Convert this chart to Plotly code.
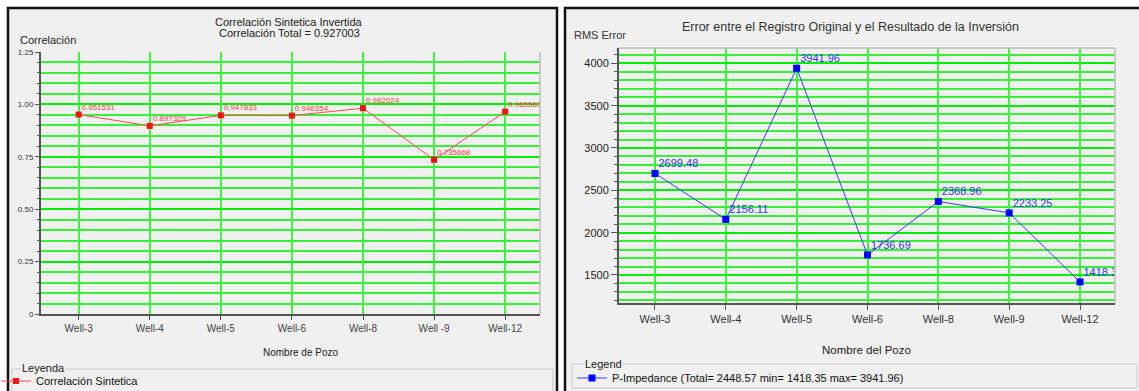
import plotly.graph_objects as go

# ---- data -------------------------------------------------------------
wells_corr = ["Well-3", "Well-4", "Well-5", "Well-6", "Well-8", "Well -9", "Well-12"]
corr_values = [0.951531, 0.897329, 0.947833, 0.946354, 0.982024, 0.735668, 0.965566]
corr_total = 0.927003
corr_tickvals = [0, 0.25, 0.5, 0.75, 1.0, 1.25]
corr_ticktext = ["0", "0.25", "0.50", "0.75", "1.00", "1.25"]

wells_rms = ["Well-3", "Well-4", "Well-5", "Well-6", "Well-8", "Well-9", "Well-12"]
rms_values = [2699.48, 2156.11, 3941.96, 1736.69, 2368.96, 2233.25, 1418.35]
rms_total = 2448.57

# ---- canvas helpers ----------------------------------------------------
W, H = 1139, 391
FONT = "Liberation Sans, Arial, sans-serif"
NARROW = "Liberation Sans Narrow, Liberation Sans, Arial, sans-serif"
PANEL_BG = "#f0f0f0"
GRID_MAJOR = "#00ee00"
GRID_MINOR = "#38f038"
GRID_VERT = "#44f044"
CLEAR = "rgba(0,0,0,0)"


def px(x):
    return x / W


def py(y):
    return 1 - y / H


fig = go.Figure()

# correlation series (line + markers) and its value labels
fig.add_trace(go.Scatter(
    x=wells_corr, y=corr_values, xaxis="x", yaxis="y",
    mode="lines+markers", name="Correlación Sintetica",
    line=dict(color="#ff4a4a", width=1),
    marker=dict(symbol="square", size=6, color="#ff1010"),
    legend="legend",
))
fig.add_trace(go.Scatter(
    x=wells_corr, y=corr_values, xaxis="x", yaxis="y",
    mode="markers+text", showlegend=False, hoverinfo="skip",
    marker=dict(size=3, color=CLEAR),
    text=[f"{v:.6f}" for v in corr_values], textposition="top right",
    textfont=dict(family=NARROW, size=8, color="#ff4040"),
))

# RMS error series and its value labels
fig.add_trace(go.Scatter(
    x=wells_rms, y=rms_values, xaxis="x2", yaxis="y2",
    mode="lines+markers",
    name=f"P-Impedance (Total= {rms_total:.2f} min= {min(rms_values):.2f} max= {max(rms_values):.2f})",
    line=dict(color="#3a3aff", width=1),
    marker=dict(symbol="square", size=7, color="#0000ff"),
    legend="legend2",
))
fig.add_trace(go.Scatter(
    x=wells_rms, y=rms_values, xaxis="x2", yaxis="y2",
    mode="markers+text", showlegend=False, hoverinfo="skip",
    marker=dict(size=4, color=CLEAR),
    text=[f"{v:.2f}" for v in rms_values], textposition="top right",
    textfont=dict(family=FONT, size=11, color="#3434ff"),
))

axis_common = dict(showline=True, linecolor="#555555", linewidth=2,
                   ticks="outside", tickcolor="#555555", zeroline=False)

fig.update_layout(
    width=W, height=H,
    margin=dict(l=0, r=0, t=0, b=0, autoexpand=False),
    paper_bgcolor="white", plot_bgcolor="white",
    font=dict(family=FONT, color="#222222"),
    xaxis=dict(domain=[px(41), px(540)], anchor="y", type="category",
               range=[-0.53, 6.49], showgrid=True, gridcolor=GRID_VERT, gridwidth=1.5,
               ticklen=4, tickfont=dict(size=10, color="#444444"), **axis_common),
    yaxis=dict(domain=[py(314), py(52)], anchor="x", range=[0, 1.25],
               tickmode="array", tickvals=corr_tickvals, ticktext=corr_ticktext,
               ticklen=4, tickfont=dict(family=NARROW, size=8, color="#333333"),
               showgrid=True, gridcolor=GRID_MAJOR, gridwidth=2,
               minor=dict(tickmode="linear", tick0=0, dtick=0.05, ticks="outside",
                          ticklen=2, tickcolor="#555555", showgrid=True,
                          gridcolor=GRID_MINOR, gridwidth=1.5),
               **axis_common),
    xaxis2=dict(domain=[px(619), px(1115)], anchor="y2", type="category",
                range=[-0.508, 6.494], showgrid=True, gridcolor=GRID_VERT, gridwidth=1.5,
                ticklen=5, tickfont=dict(size=11, color="#333333"), **axis_common),
    yaxis2=dict(domain=[py(303), py(48)], anchor="x2", range=[1169, 4181],
                tick0=0, dtick=500, ticklen=6, tickfont=dict(size=11, color="#222222"),
                showgrid=True, gridcolor=GRID_MAJOR, gridwidth=2,
                minor=dict(tickmode="linear", tick0=0, dtick=100, ticks="outside",
                           ticklen=3, tickcolor="#555555", showgrid=True,
                           gridcolor=GRID_MINOR, gridwidth=1.5),
                **axis_common),
    legend=dict(x=px(-4), y=py(381), xanchor="left", yanchor="middle",
                bgcolor=CLEAR, borderwidth=0, itemwidth=30,
                font=dict(size=11, color="#111111")),
    legend2=dict(x=px(572), y=py(378), xanchor="left", yanchor="middle",
                 bgcolor=CLEAR, borderwidth=0, itemwidth=30,
                 font=dict(size=11, color="#111111")),
    showlegend=True,
)

shapes = []
# panel backgrounds and frames
for x0, x1 in [(8, 557), (565, 1150)]:
    shapes.append(dict(type="rect", xref="paper", yref="paper", layer="below",
                       x0=px(x0), x1=px(x1), y0=py(400), y1=py(8),
                       fillcolor=PANEL_BG, line=dict(color="#111111", width=2.5)))
# legend group boxes
shapes.append(dict(type="rect", xref="paper", yref="paper", layer="below",
                   x0=px(12), x1=px(553), y0=py(398), y1=py(369),
                   line=dict(color="#c8c8c8", width=1)))
shapes.append(dict(type="rect", xref="paper", yref="paper", layer="below",
                   x0=px(572), x1=px(1137), y0=py(388), y1=py(364),
                   line=dict(color="#c8c8c8", width=1)))
# light plot-area edges
shapes.append(dict(type="line", xref="paper", yref="paper",
                   x0=px(540), x1=px(540), y0=py(314), y1=py(52),
                   line=dict(color="#bdbdbd", width=1.5)))
shapes.append(dict(type="line", xref="paper", yref="paper",
                   x0=px(1115), x1=px(1115), y0=py(303), y1=py(48),
                   line=dict(color="#bdbdbd", width=1.5)))
shapes.append(dict(type="line", xref="paper", yref="paper",
                   x0=px(619), x1=px(1115), y0=py(48), y1=py(48),
                   line=dict(color="#bdbdbd", width=1.5)))
fig.update_layout(shapes=shapes)


def note(text, x, y, size=11, xanchor="center", color="#222222", bg=None):
    fig.add_annotation(text=text, x=px(x), y=py(y), xref="paper", yref="paper",
                       xanchor=xanchor, yanchor="middle", showarrow=False,
                       font=dict(family=FONT, size=size, color=color),
                       bgcolor=bg, borderpad=0)


# left panel texts
note("Correlación Sintetica Invertida", 289, 22)
note(f"Correlación Total = {corr_total:.6f}", 289, 33)
note("Correlación", 19, 40, xanchor="left")
note("Nombre de Pozo", 300, 352, size=10)
note("Leyenda", 21, 368, xanchor="left", bg=PANEL_BG)

# right panel texts
note("Error entre el Registro Original y el Resultado de la Inversión", 850, 27, size=12.5, color="#333333")
note("RMS Error", 573, 35, xanchor="left", color="#333333")
note("Nombre del Pozo", 866, 350, size=11.5)
note("Legend", 584, 364, xanchor="left", bg=PANEL_BG)

fig.write_html("out.html")
